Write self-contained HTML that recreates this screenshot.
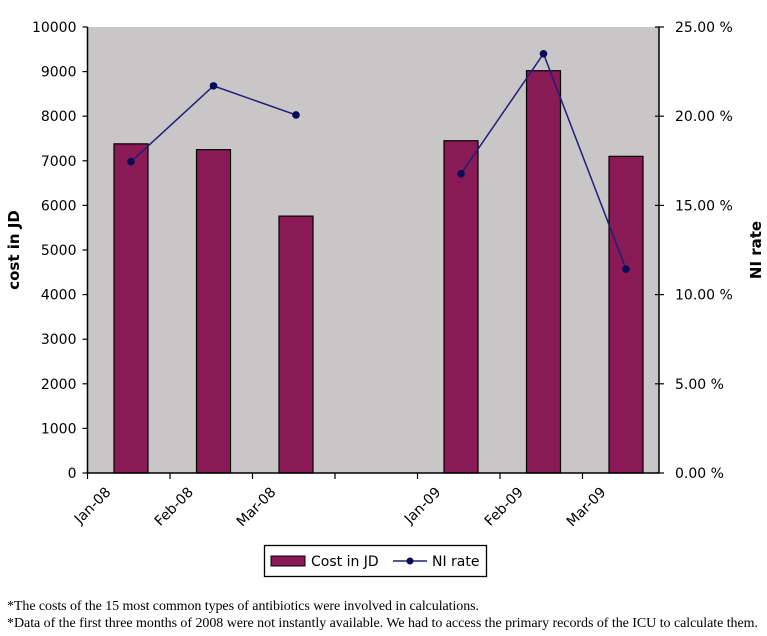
<!DOCTYPE html>
<html><head><meta charset="utf-8"><style>
body{margin:0;background:#fff;width:767px;height:636px;overflow:hidden}
svg{display:block}
.t{font-family:"DejaVu Sans","Liberation Sans",sans-serif;font-size:14px;fill:#000}
.n{font-family:"Liberation Serif",serif;font-size:14px;fill:#000}
</style></head><body>
<svg width="767" height="636">
<rect x="87.5" y="27" width="571.5" height="446" fill="#c8c6c6"/>
<g id="bars"></g><g id="line"></g><g id="axes"></g>
<text class="t" transform="translate(19,250) rotate(-90)" text-anchor="middle" style="font-weight:bold;font-size:15px">cost in JD</text>
<text class="t" transform="translate(761,250) rotate(-90)" text-anchor="middle" style="font-weight:bold;font-size:15px">NI rate</text>
<g>
<rect x="264.5" y="545.5" width="222" height="31" fill="#fff" stroke="#000" stroke-width="1.3"/>
<rect x="271" y="556" width="34" height="10" fill="#8a1a55" stroke="#000"/>
<text class="t" x="311" y="566">Cost in JD</text>
<line x1="393" y1="561" x2="427" y2="561" stroke="#1e1e7a" stroke-width="1.5"/>
<circle cx="410" cy="561" r="3.5" fill="#0a0a55"/>
<text class="t" x="432" y="566">NI rate</text>
</g>
<text class="n" x="7" y="610" textLength="472">*The costs of the 15 most common types of antibiotics were involved in calculations.</text>
<text class="n" x="7" y="627" textLength="751">*Data of the first three months of 2008 were not instantly available. We had to access the primary records of the ICU to calculate them.</text>
</svg>
<script>
const categories=["Jan-08","Feb-08","Mar-08","","Jan-09","Feb-09","Mar-09"];
const costValues=[7380,7250,5760,null,7450,9020,7100];
const niValues=[17.45,21.7,20.07,null,16.77,23.5,11.43];
const leftTicks=[0,1000,2000,3000,4000,5000,6000,7000,8000,9000,10000];
const rightTicks=[0,5,10,15,20,25];
const NS="http://www.w3.org/2000/svg";
const L=87.5,R=659,T=27,B=473,step=82.5;
const yL=v=>B-v/10000*(B-T);
const yR=v=>B-v/25*(B-T);
const xc=i=>L+step*i+43.5;
function mk(p,tag,a){const e=document.createElementNS(NS,tag);for(const k in a)e.setAttribute(k,a[k]);document.querySelector(p).appendChild(e);return e;}
costValues.forEach((v,i)=>{if(v==null)return;
const r=mk('#bars','rect',{x:xc(i)-17,y:yL(v),width:34,height:B-yL(v),fill:'#8a1a55',stroke:'#000','stroke-width':1.2});

});
let seg=[];const segs=[];
niValues.forEach((v,i)=>{if(v==null){if(seg.length)segs.push(seg);seg=[];}else seg.push(xc(i)+','+yR(v));});
if(seg.length)segs.push(seg);
segs.forEach((s,k)=>{const p=mk('#line','polyline',{points:s.join(' '),fill:'none',stroke:'#1e1e7a','stroke-width':1.5});

});
niValues.forEach((v,i)=>{if(v==null)return;
const c=mk('#line','circle',{cx:xc(i),cy:yR(v),r:3.8,fill:'#0a0a55'});

});
const ax='#axes';
mk(ax,'line',{x1:L,y1:T,x2:L,y2:B,stroke:'#000','stroke-width':1.5});
mk(ax,'line',{x1:R,y1:T,x2:R,y2:B,stroke:'#000','stroke-width':1.5});
mk(ax,'line',{x1:L,y1:B,x2:R,y2:B,stroke:'#000','stroke-width':1.5});
leftTicks.forEach(v=>{mk(ax,'line',{x1:L-5,y1:yL(v),x2:L,y2:yL(v),stroke:'#000','stroke-width':1.2});
const t=mk(ax,'text',{x:L-11,y:yL(v)+5,'text-anchor':'end',class:'t'});t.textContent=v;

});
rightTicks.forEach(v=>{mk(ax,'line',{x1:R-4,y1:yR(v),x2:R+5,y2:yR(v),stroke:'#000','stroke-width':1.2});
const t=mk(ax,'text',{x:R+16,y:yR(v)+5,class:'t'});t.textContent=v.toFixed(2)+' %';

});
categories.forEach((c,i)=>{const x=L+step*i;
if(x<R)mk(ax,'line',{x1:x,y1:B,x2:x,y2:B+6,stroke:'#000','stroke-width':1.2});
if(!c)return;
const t=mk(ax,'text',{class:'t','text-anchor':'end',transform:`translate(${x+24},${B+20}) rotate(-45)`});t.textContent=c;

});
</script>
</body></html>
